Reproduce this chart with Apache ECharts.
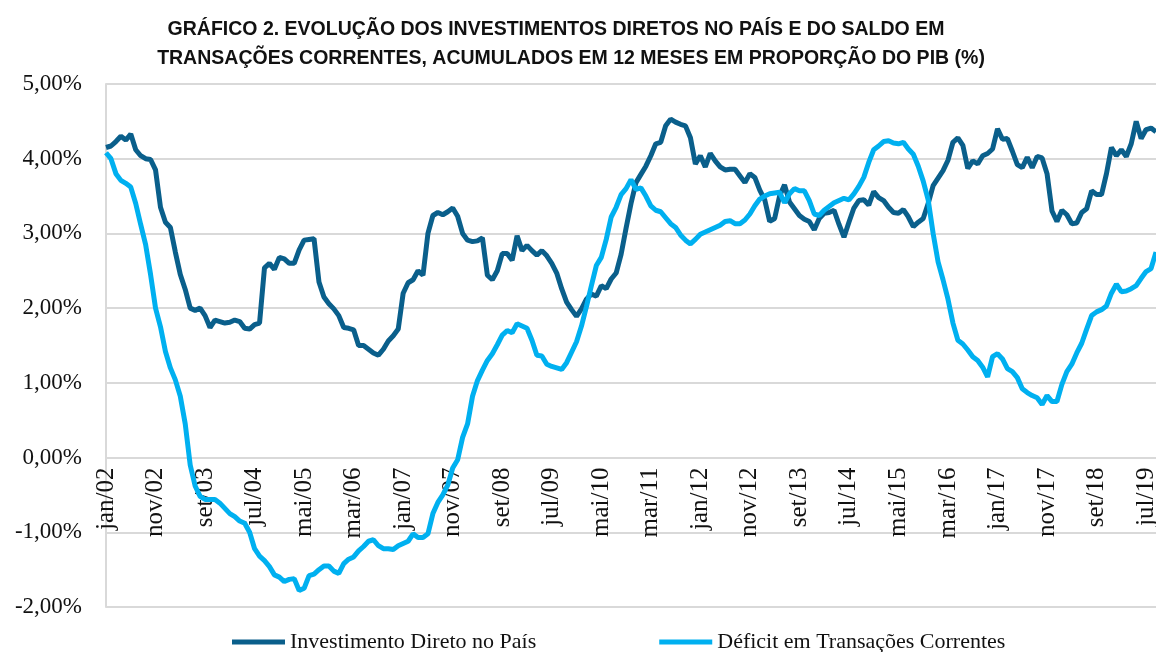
<!DOCTYPE html>
<html>
<head>
<meta charset="utf-8">
<title>IDP e saldo em transações correntes</title>
<script src="https://cdn.jsdelivr.net/npm/echarts@6/dist/echarts.min.js"></script>
<style>
  html, body { margin: 0; padding: 0; background: #fff; }
  #main { width: 1156px; height: 652px; }
</style>
</head>
<body>
<div id="main"></div>
<script type="text/javascript">
// meses de jan/02 a set/19
var mesesNomes = ['jan', 'fev', 'mar', 'abr', 'mai', 'jun', 'jul', 'ago', 'set', 'out', 'nov', 'dez'];
var meses = [];
for (var a = 2; a <= 19; a++) {
  for (var m = 0; m < 12; m++) {
    if (a === 19 && m > 8) break;
    meses.push(mesesNomes[m] + '/' + (a < 10 ? '0' + a : a));
  }
}

// Investimento Direto no País (% do PIB, 12 meses)
var idp = [
  4.15, 4.17, 4.23, 4.30, 4.25, 4.33, 4.12, 4.04, 4.00, 3.99,
  3.85, 3.35, 3.15, 3.08, 2.75, 2.45, 2.25, 2.00, 1.97, 2.00,
  1.90, 1.74, 1.84, 1.82, 1.80, 1.81, 1.84, 1.82, 1.73, 1.72,
  1.78, 1.80, 2.54, 2.60, 2.52, 2.68, 2.66, 2.60, 2.60, 2.78,
  2.91, 2.92, 2.93, 2.35, 2.15, 2.06, 1.99, 1.90, 1.74, 1.73,
  1.71, 1.50, 1.50, 1.45, 1.40, 1.37, 1.45, 1.56, 1.63, 1.72,
  2.20, 2.34, 2.38, 2.50, 2.44, 3.00, 3.24, 3.28, 3.25, 3.29,
  3.34, 3.23, 3.00, 2.91, 2.89, 2.90, 2.94, 2.44, 2.38, 2.50,
  2.73, 2.73, 2.64, 2.97, 2.77, 2.84, 2.77, 2.71, 2.77, 2.70,
  2.60, 2.47, 2.26, 2.08, 1.98, 1.89, 1.99, 2.12, 2.19, 2.16,
  2.30, 2.26, 2.39, 2.47, 2.72, 3.07, 3.40, 3.68, 3.79, 3.90,
  4.04, 4.20, 4.22, 4.44, 4.53, 4.49, 4.46, 4.44, 4.28, 3.93,
  4.04, 3.89, 4.07, 3.97, 3.89, 3.85, 3.86, 3.86, 3.77, 3.68,
  3.80, 3.75, 3.58, 3.45, 3.16, 3.20, 3.50, 3.65, 3.42, 3.33,
  3.24, 3.19, 3.16, 3.05, 3.20, 3.27, 3.28, 3.31, 3.12, 2.95,
  3.15, 3.34, 3.44, 3.45, 3.38, 3.56, 3.48, 3.44, 3.35, 3.28,
  3.27, 3.32, 3.22, 3.09, 3.15, 3.20, 3.40, 3.64, 3.74, 3.84,
  3.98, 4.22, 4.28, 4.18, 3.87, 3.97, 3.93, 4.04, 4.07, 4.13,
  4.40, 4.26, 4.27, 4.10, 3.92, 3.88, 4.02, 3.88, 4.03, 4.01,
  3.80, 3.30, 3.16, 3.31, 3.25, 3.13, 3.14, 3.28, 3.33, 3.57,
  3.52, 3.52, 3.80, 4.15, 4.04, 4.12, 4.03, 4.20, 4.50, 4.27,
  4.39, 4.41, 4.36
];

// Déficit em Transações Correntes (% do PIB, 12 meses)
var deficit = [
  4.08, 4.00, 3.80, 3.71, 3.67, 3.62, 3.40, 3.12, 2.85, 2.45,
  2.00, 1.75, 1.42, 1.20, 1.04, 0.82, 0.45, -0.10, -0.38, -0.52,
  -0.56, -0.56, -0.56, -0.61, -0.68, -0.75, -0.79, -0.85, -0.88, -1.00,
  -1.22, -1.32, -1.38, -1.46, -1.57, -1.60, -1.66, -1.63, -1.62, -1.78,
  -1.75, -1.58, -1.56, -1.50, -1.45, -1.45, -1.52, -1.55, -1.42, -1.36,
  -1.33, -1.25, -1.19, -1.12, -1.10, -1.18, -1.22, -1.22, -1.23, -1.18,
  -1.15, -1.12, -1.02, -1.07, -1.07, -1.02, -0.75, -0.60, -0.50, -0.37,
  -0.14, -0.03, 0.27, 0.45, 0.82, 1.03, 1.17, 1.30, 1.39, 1.51,
  1.64, 1.70, 1.67, 1.79, 1.76, 1.73, 1.57, 1.37, 1.36, 1.25,
  1.22, 1.20, 1.18, 1.27, 1.41, 1.55, 1.76, 2.02, 2.30, 2.57,
  2.68, 2.92, 3.22, 3.35, 3.52, 3.60, 3.72, 3.59, 3.61, 3.50,
  3.37, 3.31, 3.29, 3.21, 3.13, 3.08, 2.98, 2.91, 2.86, 2.92,
  2.99, 3.02, 3.05, 3.08, 3.11, 3.16, 3.17, 3.13, 3.13, 3.18,
  3.26, 3.37, 3.46, 3.50, 3.53, 3.54, 3.55, 3.41, 3.53, 3.60,
  3.57, 3.57, 3.44, 3.26, 3.24, 3.31, 3.36, 3.41, 3.44, 3.47,
  3.45, 3.53, 3.63, 3.75, 3.95, 4.12, 4.17, 4.23, 4.24, 4.21,
  4.20, 4.22, 4.13, 4.06, 3.90, 3.70, 3.45, 3.00, 2.62, 2.38,
  2.12, 1.80, 1.57, 1.52, 1.44, 1.35, 1.30, 1.21, 1.08, 1.35,
  1.39, 1.32, 1.19, 1.15, 1.07, 0.92, 0.87, 0.83, 0.80, 0.71,
  0.83, 0.75, 0.75, 0.98, 1.15, 1.25, 1.40, 1.53, 1.72, 1.90,
  1.95, 1.98, 2.03, 2.20, 2.32, 2.22, 2.23, 2.26, 2.30, 2.40,
  2.49, 2.53, 2.75
];

var nomes = ['Investimento Direto no País', 'Déficit em Transações Correntes'];
var cores = ['#0A5F8B', '#00B0F0'];
var titulo = [
  'GRÁFICO 2. EVOLUÇÃO DOS INVESTIMENTOS DIRETOS NO PAÍS E DO SALDO EM',
  'TRANSAÇÕES CORRENTES, ACUMULADOS EM 12 MESES EM PROPORÇÃO DO PIB (%)'
];

var serif = '"Liberation Serif", "DejaVu Serif", serif';
var tituloFonte = {
  fontFamily: '"Liberation Sans", Arial, sans-serif',
  fontWeight: 'bold',
  fontSize: 19.5,
  color: '#111'
};

// área do gráfico
var gTop = 84, gHeight = 523, yMin = -2, yMax = 5;
// deslocamento do eixo x até a linha do zero
var offsetZero = -(0 - yMin) / (yMax - yMin) * gHeight;

var myChart = echarts.init(document.getElementById('main'));

var option = {
  backgroundColor: '#fff',
  animation: false,
  title: [
    { text: titulo[0], left: 556, top: 20, textAlign: 'center', padding: 0, textStyle: tituloFonte },
    { text: titulo[1], left: 571, top: 49, textAlign: 'center', padding: 0, textStyle: tituloFonte }
  ],
  legend: {
    data: nomes,
    left: 227,
    top: 626,
    icon: 'rect',
    itemWidth: 53,
    itemHeight: 5,
    itemGap: 123,
    textStyle: { fontFamily: serif, fontSize: 22, color: '#111' }
  },
  grid: {
    left: 106, top: gTop, width: 1050, height: gHeight,
    containLabel: false,
    outerBoundsMode: 'none'
  },
  xAxis: {
    type: 'category',
    data: meses,
    boundaryGap: false,
    position: 'bottom',
    offset: offsetZero,
    axisLine: { onZero: false, lineStyle: { color: '#D9D9D9', width: 2 } },
    axisTick: { show: false },
    axisLabel: {
      interval: 9,
      rotate: 90,
      margin: 10,
      fontFamily: serif,
      fontSize: 25,
      color: '#111'
    },
    splitLine: { show: false }
  },
  yAxis: {
    type: 'value',
    min: yMin,
    max: yMax,
    interval: 1,
    axisLine: { show: true, lineStyle: { color: '#D9D9D9', width: 2 } },
    axisTick: { show: false },
    axisLabel: {
      margin: 24,
      fontFamily: serif,
      fontSize: 23,
      color: '#111',
      formatter: function (v) { return v.toFixed(2).replace('.', ',') + '%'; }
    },
    splitLine: { lineStyle: { color: '#D9D9D9', width: 2 } }
  },
  series: [
    {
      name: nomes[0],
      type: 'line',
      data: idp,
      symbol: 'none',
      lineStyle: { color: cores[0], width: 5 },
      itemStyle: { color: cores[0] }
    },
    {
      name: nomes[1],
      type: 'line',
      data: deficit,
      symbol: 'none',
      lineStyle: { color: cores[1], width: 5 },
      itemStyle: { color: cores[1] }
    }
  ]
};

myChart.setOption(option);
</script>
</body>
</html>
